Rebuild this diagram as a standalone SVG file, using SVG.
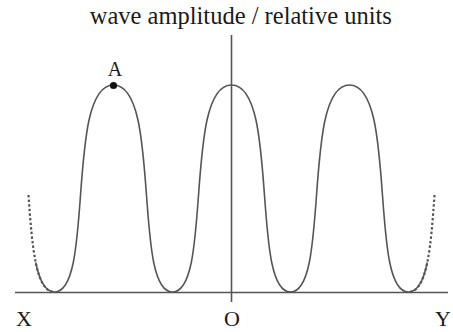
<svg xmlns="http://www.w3.org/2000/svg" width="453" height="332" viewBox="0 0 453 332">
<style>
.ln{fill:none;stroke:#555;stroke-width:1.6}
.dot{fill:none;stroke:#555;stroke-width:2.2;stroke-dasharray:2.4 2.2}
.t{font-family:"Liberation Serif","Times New Roman",serif;fill:#1a1a1a}
</style>
<rect width="453" height="332" fill="#fff"/>
<g id="axes">
<line class="ln" x1="15" y1="292.5" x2="448" y2="292.5"/>
<line class="ln" x1="231.5" y1="35" x2="231.5" y2="302"/>
</g>
<g id="wave">
<path class="ln" d="M54.5,292 C94.5,292 65.5,85 113.5,85 C161.5,85 132.5,292 172.5,292 C212.5,292 183.5,85 231.5,85 C279.5,85 250.5,292 290.5,292 C330.5,292 301.5,85 349.5,85 C397.5,85 368.5,292 408.5,292"/>
<path class="dot" d="M28.5,195 C32,244.3 35.3,292 54.5,292"/>
<path class="ln" d="M35.7,262.4 C39.4,280.3 45,292 54.5,292"/>
<path class="dot" d="M434.5,195 C431,244.3 427.7,292 408.5,292"/>
<path class="ln" d="M427.3,262.4 C423.6,280.3 418,292 408.5,292"/>
</g>
<g id="pointA">
<circle cx="113.5" cy="85.5" r="3.6" fill="#111"/>
<text class="t" x="115" y="76" font-size="20" text-anchor="middle">A</text>
</g>
<g id="labels">
<text class="t" x="240.8" y="24" font-size="24.5" text-anchor="middle">wave amplitude / relative units</text>
<text class="t" x="24" y="326" font-size="22" text-anchor="middle">X</text>
<text class="t" x="232" y="326" font-size="22" text-anchor="middle">O</text>
<text class="t" x="443" y="326" font-size="22" text-anchor="middle">Y</text>
</g>
</svg>
